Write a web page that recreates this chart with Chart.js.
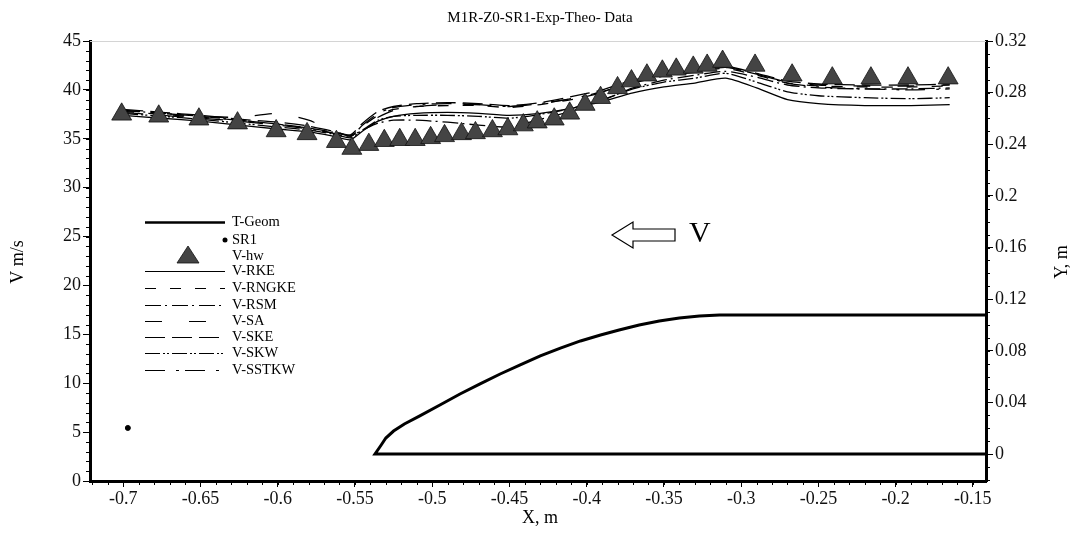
<!DOCTYPE html>
<html>
<head>
<meta charset="utf-8">
<script src="https://cdn.jsdelivr.net/npm/chart.js@4"></script>
<style>
  html, body { margin: 0; padding: 0; background: #fff; }
  #c { display: block; }
</style>
</head>
<body>
<canvas id="c" width="1080" height="533"></canvas>
<script>
// x positions shared by the simulated velocity curves
const xV = [-0.70, -0.675, -0.65, -0.625, -0.60, -0.58, -0.565, -0.553, -0.545, -0.535, -0.525, -0.51, -0.49, -0.47,
            -0.45, -0.43, -0.41, -0.39, -0.37, -0.35, -0.33, -0.31, -0.29, -0.27, -0.25, -0.22, -0.19, -0.165];
const vRKE   = [37.4, 37.1, 36.8, 36.4, 36.0, 35.7, 35.3, 34.9, 35.8, 36.8, 37.3, 37.6, 37.7, 37.6, 37.4, 37.6, 38.1, 38.8, 39.7, 40.3, 40.7, 41.2, 40.2, 39.0, 38.6, 38.4, 38.4, 38.5];
const vRNGKE = [37.8, 37.5, 37.2, 36.9, 36.5, 36.1, 35.6, 35.2, 36.3, 37.4, 38.0, 38.3, 38.4, 38.4, 38.2, 38.5, 39.0, 39.7, 40.7, 41.4, 41.8, 42.2, 41.5, 40.7, 40.4, 40.3, 40.3, 40.4];
const vRSM   = [37.9, 37.6, 37.3, 36.9, 36.5, 36.1, 35.7, 35.3, 35.9, 36.6, 36.9, 36.9, 36.7, 36.4, 36.2, 37.0, 37.8, 38.9, 40.2, 41.0, 41.5, 41.9, 41.3, 40.5, 40.2, 40.1, 40.1, 40.2];
const vSA    = [37.9, 37.6, 37.3, 37.2, 37.6, 36.9, 35.9, 35.3, 36.2, 37.2, 37.9, 38.3, 38.5, 38.5, 38.3, 38.6, 39.1, 39.8, 40.8, 41.5, 41.9, 42.3, 41.6, 40.8, 40.5, 40.4, 40.4, 40.5];
const vSKE   = [38.0, 37.7, 37.4, 37.0, 36.7, 36.3, 35.8, 35.4, 36.6, 37.8, 38.3, 38.6, 38.7, 38.6, 38.4, 38.7, 39.3, 40.0, 41.0, 41.6, 42.0, 42.4, 41.7, 40.9, 40.6, 40.5, 40.5, 40.6];
const vSKW   = [37.6, 37.3, 37.0, 36.6, 36.2, 35.9, 35.5, 35.1, 35.9, 36.9, 37.3, 37.4, 37.4, 37.3, 37.1, 37.5, 38.1, 39.0, 40.1, 40.8, 41.2, 41.7, 40.8, 39.8, 39.4, 39.2, 39.1, 39.2];
const vSSTKW = [37.7, 37.4, 37.1, 36.8, 36.4, 36.0, 35.6, 35.2, 36.4, 37.6, 38.2, 38.5, 38.6, 38.5, 38.3, 38.6, 39.1, 39.8, 40.8, 41.5, 41.9, 42.3, 41.6, 40.7, 40.3, 40.1, 40.0, 40.1];

// measured velocity (triangles)
const xHw = [-0.701, -0.677, -0.651, -0.626, -0.601, -0.581, -0.562, -0.552, -0.541, -0.531, -0.521, -0.511, -0.501,
             -0.492, -0.481, -0.472, -0.461, -0.451, -0.441, -0.432, -0.421, -0.411, -0.401, -0.391, -0.380, -0.371,
             -0.361, -0.351, -0.342, -0.331, -0.322, -0.312, -0.291, -0.267, -0.241, -0.216, -0.192, -0.166];
const vHw = [37.5, 37.3, 37.0, 36.6, 35.8, 35.5, 34.7, 34.0, 34.4, 34.8, 34.9, 34.9, 35.1,
             35.3, 35.5, 35.6, 35.8, 36.0, 36.4, 36.7, 37.0, 37.6, 38.5, 39.2, 40.2, 40.9,
             41.5, 41.9, 42.1, 42.3, 42.5, 42.9, 42.5, 41.5, 41.2, 41.2, 41.2, 41.2];

// geometry outline (right axis, m)
const xGeom = [-0.14, -0.537, -0.533, -0.530, -0.525, -0.518, -0.508, -0.495, -0.482, -0.469, -0.456, -0.443, -0.430,
               -0.417, -0.404, -0.391, -0.379, -0.366, -0.353, -0.340, -0.327, -0.314, -0.294, -0.14];
const yGeom = [0, 0, 0.007, 0.0124, 0.0178, 0.0233, 0.0295, 0.038, 0.0465, 0.0543, 0.062, 0.069, 0.076,
               0.082, 0.0876, 0.0922, 0.0961, 0.1000, 0.1031, 0.1054, 0.107, 0.1078, 0.1078, 0.1078];

const xSR1 = [-0.697];
const ySR1 = [0.0202];

const xTicks = [-0.7, -0.65, -0.6, -0.55, -0.5, -0.45, -0.4, -0.35, -0.3, -0.25, -0.2, -0.15];
const xTickLabels = ["-0.7", "-0.65", "-0.6", "-0.55", "-0.5", "-0.45", "-0.4", "-0.35", "-0.3", "-0.25", "-0.2", "-0.15"];
const y2Ticks = [0, 0.04, 0.08, 0.12, 0.16, 0.2, 0.24, 0.28, 0.32];
const y2TickLabels = ["0", "0.04", "0.08", "0.12", "0.16", "0.2", "0.24", "0.28", "0.32"];

const pts = (xs, ys) => xs.map((x, i) => ({ x: x, y: ys[i] }));
const SERIF = '"Liberation Serif", "DejaVu Serif", serif';

function curve(label, ys, dash) {
  return {
    label: label, data: pts(xV, ys), yAxisID: 'y', showLine: true,
    borderColor: '#000', borderWidth: 1.3, borderDash: dash, pointRadius: 0,
    tension: 0.2, order: 2
  };
}

const datasets = [
  { label: 'T-Geom', data: pts(xGeom, yGeom), yAxisID: 'y2', showLine: true, borderColor: '#000',
    borderWidth: 3, pointRadius: 0, order: 1 },
  { label: 'SR1', data: pts(xSR1, ySR1), yAxisID: 'y2', showLine: false, pointRadius: 2.5,
    backgroundColor: '#000', borderColor: '#000', order: 1 },
  { label: 'V-hw', data: pts(xHw, vHw), yAxisID: 'y', showLine: false, pointStyle: 'triangle',
    pointRadius: 11.5, backgroundColor: '#444', borderColor: '#111', borderWidth: 0.8, order: 0 },
  curve('V-RKE', vRKE, []),
  curve('V-RNGKE', vRNGKE, [11, 14]),
  curve('V-RSM', vRSM, [16, 4, 2, 5]),
  curve('V-SA', vSA, [17, 27]),
  curve('V-SKE', vSKE, [20, 7]),
  curve('V-SKW', vSKW, [15, 3, 2, 2, 2, 3]),
  curve('V-SSTKW', vSSTKW, [20, 11, 3, 6])
];

const overlay = {
  id: 'overlay',
  afterDraw(chart) {
    const { ctx, chartArea: a, scales } = chart;
    ctx.save();
    // light top frame
    ctx.strokeStyle = '#d4d4d4';
    ctx.lineWidth = 1;
    ctx.beginPath(); ctx.moveTo(a.left, a.top + 0.5); ctx.lineTo(a.right, a.top + 0.5); ctx.stroke();

    // minor ticks
    ctx.strokeStyle = '#000';
    ctx.lineWidth = 1;
    ctx.beginPath();
    for (let i = 0; i <= 45; i++) {
      const y = Math.round(scales.y.getPixelForValue(i)) + 0.5;
      ctx.moveTo(a.left - 4, y); ctx.lineTo(a.left - 1, y);
    }
    for (let i = -2; i <= 32; i++) {
      const y = Math.round(scales.y2.getPixelForValue(i / 100)) + 0.5;
      ctx.moveTo(a.right + 1, y); ctx.lineTo(a.right + 4, y);
    }
    for (let i = -72; i <= -15; i++) {
      const x = Math.round(scales.x.getPixelForValue(i / 100)) + 0.5;
      ctx.moveTo(x, a.bottom + 1); ctx.lineTo(x, a.bottom + 4);
    }
    ctx.stroke();

    // titles
    ctx.fillStyle = '#000';
    ctx.textAlign = 'center';
    ctx.textBaseline = 'middle';
    ctx.font = '15px ' + SERIF;
    ctx.fillText('M1R-Z0-SR1-Exp-Theo- Data', 540, 18);
    ctx.font = '18px ' + SERIF;
    ctx.fillText('X, m', 540, 518);
    ctx.save(); ctx.translate(18, 262); ctx.rotate(-Math.PI / 2); ctx.fillText('V m/s', 0, 0); ctx.restore();
    ctx.save(); ctx.translate(1062, 262); ctx.rotate(-Math.PI / 2); ctx.fillText('Y, m', 0, 0); ctx.restore();

    // arrow + V
    ctx.lineWidth = 1.2;
    ctx.beginPath();
    ctx.moveTo(612, 235); ctx.lineTo(633, 222); ctx.lineTo(633, 229); ctx.lineTo(675, 229);
    ctx.lineTo(675, 241); ctx.lineTo(633, 241); ctx.lineTo(633, 248); ctx.closePath();
    ctx.stroke();
    ctx.font = '30px ' + SERIF;
    ctx.textAlign = 'left';
    ctx.fillText('V', 689, 234);

    // legend
    const rows = [222, 240, 256, 271, 288, 305, 321, 337, 353, 370];
    ctx.font = '14.5px ' + SERIF;
    chart.data.datasets.forEach((ds, i) => {
      const y = rows[i];
      if (ds.label === 'SR1') {
        ctx.beginPath(); ctx.arc(225, y, 2.5, 0, Math.PI * 2); ctx.fill();
      } else if (ds.label === 'V-hw') {
        ctx.fillStyle = ds.backgroundColor; ctx.strokeStyle = ds.borderColor; ctx.lineWidth = 0.8;
        ctx.beginPath(); ctx.moveTo(188, y - 10); ctx.lineTo(199, y + 7); ctx.lineTo(177, y + 7); ctx.closePath();
        ctx.fill(); ctx.stroke();
        ctx.fillStyle = '#000'; ctx.strokeStyle = '#000';
      } else {
        ctx.lineWidth = ds.label === 'T-Geom' ? 2.6 : 1.2;
        ctx.setLineDash(ds.borderDash || []);
        ctx.beginPath(); ctx.moveTo(145, y + 0.5); ctx.lineTo(225, y + 0.5); ctx.stroke();
        ctx.setLineDash([]);
      }
      ctx.fillText(ds.label, 232, y);
    });
    ctx.restore();
  }
};

const tickFont = { family: SERIF, size: 18 };

new Chart(document.getElementById('c').getContext('2d'), {
  type: 'scatter',
  data: { datasets: datasets },
  options: {
    responsive: false,
    animation: false,
    devicePixelRatio: 1,
    layout: { padding: { top: 41, left: 0, right: 0, bottom: 0 } },
    plugins: { legend: { display: false }, title: { display: false }, tooltip: { enabled: false } },
    scales: {
      x: {
        type: 'linear', min: -0.7215, max: -0.1415,
        afterBuildTicks: s => { s.ticks = xTicks.map(v => ({ value: v })); },
        afterFit: s => { s.height = 52; },
        ticks: { font: tickFont, color: '#111', padding: 1, maxRotation: 0,
                 callback: (v) => xTickLabels[xTicks.indexOf(v)] },
        grid: { drawOnChartArea: false, tickLength: 6, color: '#000' },
        border: { display: true, color: '#000', width: 3 }
      },
      y: {
        position: 'left', min: 0, max: 45,
        ticks: { stepSize: 5, font: tickFont, color: '#111', padding: 2 },
        afterFit: s => { s.width = 90; },
        grid: { drawOnChartArea: false, tickLength: 7, color: '#000' },
        border: { display: true, color: '#000', width: 3 }
      },
      y2: {
        position: 'right', min: -0.0209, max: 0.32,
        afterBuildTicks: s => { s.ticks = y2Ticks.map(v => ({ value: v })); },
        afterFit: s => { s.width = 94; },
        ticks: { font: tickFont, color: '#111', padding: 2,
                 callback: (v) => y2TickLabels[y2Ticks.indexOf(v)] },
        grid: { drawOnChartArea: false, tickLength: 7, color: '#000' },
        border: { display: true, color: '#000', width: 3 }
      }
    }
  },
  plugins: [overlay]
});
</script>
</body>
</html>
